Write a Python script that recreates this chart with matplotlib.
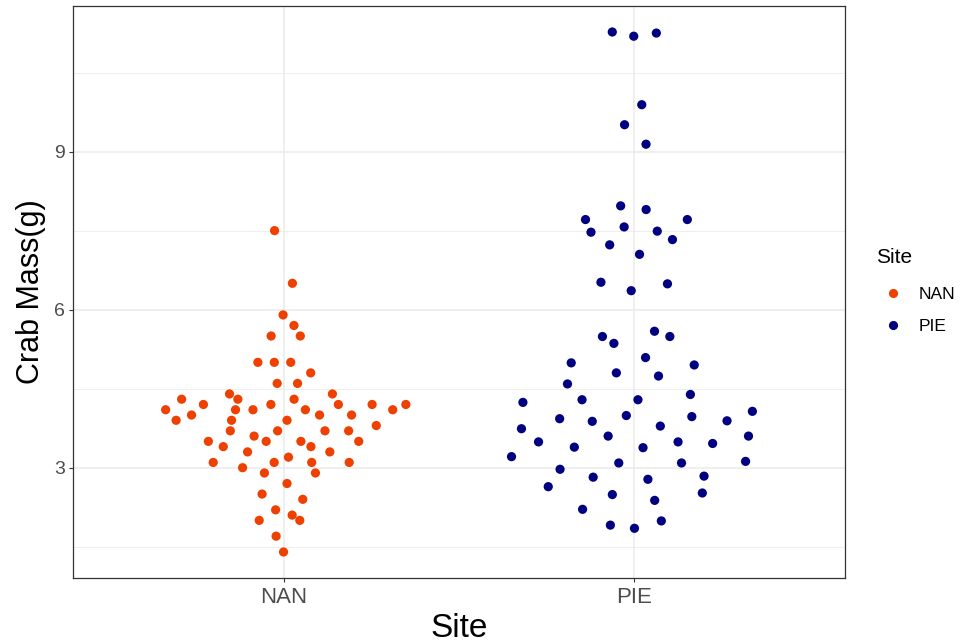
import numpy as np
import matplotlib.pyplot as plt
from matplotlib.lines import Line2D

plt.rcParams['font.family'] = ['Liberation Sans', 'DejaVu Sans']

# data (crab mass in grams per site)
sites = ['NAN', 'PIE']
site_colors = ['#EE4000', '#000080']

nan_mass = [7.5, 6.5, 5.9, 5.7, 5.5, 5.5, 5.0, 5.0, 5.0, 4.8, 4.6, 4.6,
            4.4, 4.4, 4.3, 4.3, 4.3, 4.2, 4.2, 4.2, 4.2, 4.2,
            4.1, 4.1, 4.1, 4.1, 4.1, 4.0, 4.0, 4.0, 3.9, 3.9, 3.9, 3.8,
            3.7, 3.7, 3.7, 3.7, 3.6, 3.5, 3.5, 3.5, 3.5, 3.4, 3.4,
            3.3, 3.3, 3.2, 3.1, 3.1, 3.1, 3.1, 3.0, 2.9, 2.9, 2.7,
            2.5, 2.4, 2.2, 2.1, 2.0, 2.0, 1.7, 1.4]

pie_mass = [11.27, 11.19, 11.25, 9.89, 9.51, 9.14, 7.97, 7.90, 7.71, 7.71,
            7.57, 7.47, 7.49, 7.33, 7.23, 7.05, 6.52, 6.49, 6.36, 5.49,
            5.36, 5.59, 5.49, 4.99, 5.09, 4.95, 4.80, 4.74, 4.59, 4.24,
            4.29, 4.29, 4.39, 3.93, 3.88, 3.99, 3.97, 3.89, 4.07, 3.74,
            3.79, 3.60, 3.60, 3.49, 3.39, 3.38, 3.49, 3.46, 3.21, 3.09,
            3.09, 3.12, 2.97, 2.82, 2.78, 2.84, 2.64, 2.49, 2.52, 2.38,
            2.21, 1.91, 1.85, 1.99]

y_ticks = [3, 6, 9]


def van_der_corput(n, base=2):
    out = []
    for i in range(1, n + 1):
        q, denom, v = i, 1, 0.0
        while q:
            denom *= base
            q, r = divmod(q, base)
            v += r / denom
        out.append(v)
    return np.array(out)


def quasirandom_offsets(y, width=0.4, adjust=0.5):
    # same idea as ggbeeswarm::geom_quasirandom (bandwidth 0.5)
    y = np.asarray(y, dtype=float)
    n = len(y)
    q75, q25 = np.percentile(y, [75, 25])
    bw = 0.9 * min(y.std(ddof=1), (q75 - q25) / 1.34) * n ** -0.2 * adjust
    grid = np.linspace(y.min() - 3 * bw, y.max() + 3 * bw, 1024)
    dens = np.exp(-0.5 * ((grid[:, None] - y[None, :]) / bw) ** 2).sum(axis=1)
    dens = dens / dens.max()
    d_at_y = np.interp(y, grid, dens)
    rank = np.empty(n, dtype=int)
    rank[np.argsort(y, kind='stable')] = np.arange(n)
    vdc = van_der_corput(n)[rank]
    return (vdc - 0.5) * 2 * d_at_y * width


fig = plt.figure(figsize=(9.61, 6.43), dpi=100)
ax = fig.add_axes([73 / 961, 1 - 578 / 643, 772 / 961, 572 / 643])

groups = [nan_mass, pie_mass]
for i, (vals, col) in enumerate(zip(groups, site_colors)):
    xs = i + 1 + quasirandom_offsets(vals)
    ax.scatter(xs, vals, s=44, color=col, edgecolors='none', zorder=3)

all_y = np.concatenate([nan_mass, pie_mass])
rng = all_y.max() - all_y.min()
ax.set_ylim(all_y.min() - 0.05 * rng, all_y.max() + 0.05 * rng)
ax.set_xlim(0.4, 2.6)

ax.set_xticks([1, 2])
ax.set_xticklabels(sites)
ax.set_yticks(y_ticks)
ax.set_yticks([1.5, 4.5, 7.5, 10.5], minor=True)
ax.set_yticklabels([str(t) for t in y_ticks])

ax.grid(which='major', color='#EBEBEB', linewidth=1.1)
ax.grid(which='minor', axis='y', color='#EBEBEB', linewidth=0.6)
ax.set_axisbelow(True)

for sp in ax.spines.values():
    sp.set_color('#333333')
    sp.set_linewidth(0.9)

ax.tick_params(axis='y', which='major', length=3.2, width=0.8, color='#333333',
               labelsize=14, labelcolor='#4D4D4D', pad=2.5)
ax.tick_params(axis='x', which='major', length=3.2, width=0.8, color='#333333',
               labelsize=16, labelcolor='#4D4D4D', pad=3)
ax.tick_params(which='minor', length=0)

ax.set_xlabel('Site', fontsize=24, labelpad=4)
ax.set_ylabel('Crab Mass(g)', fontsize=22, labelpad=6)

handles = [Line2D([], [], marker='o', linestyle='none', markersize=6.6,
                  markerfacecolor=c, markeredgecolor='none') for c in site_colors]
leg = fig.legend(handles, sites, title='Site', loc='center left',
                 bbox_to_anchor=(867 / 961, 1 - 293 / 643), frameon=False,
                 fontsize=12.5, title_fontsize=15, handlelength=1.95,
                 handletextpad=0.5, labelspacing=0.95, borderpad=0,
                 alignment='left')
leg.get_title().set_position((0, 4))

fig.savefig('out.png', dpi=100)
